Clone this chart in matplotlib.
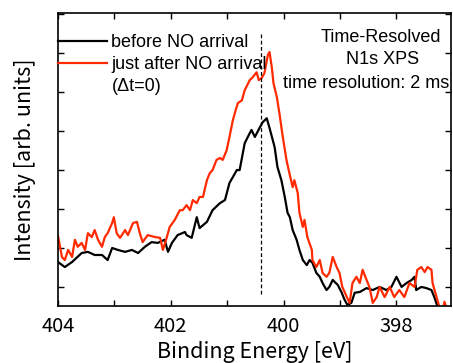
import matplotlib
matplotlib.use('Agg')
import matplotlib.pyplot as plt
from matplotlib.ticker import MultipleLocator, NullFormatter

# binding energy (eV) and intensity (arb. units)
e_before = [404.00, 403.88, 403.75, 403.58, 403.47, 403.35, 403.22, 403.12, 403.04, 402.94,
            402.81, 402.69, 402.58, 402.46, 402.34, 402.23, 402.11, 402.05, 401.98, 401.88,
            401.75, 401.72, 401.63, 401.54, 401.49, 401.36, 401.26, 401.13, 401.04, 400.96,
            400.90, 400.83, 400.78, 400.69, 400.60, 400.57, 400.51, 400.42, 400.37, 400.30,
            400.25, 400.16, 400.11, 400.04, 399.98, 399.93, 399.89, 399.84, 399.77, 399.72,
            399.66, 399.59, 399.54, 399.49, 399.42, 399.36, 399.31, 399.24, 399.19, 399.13,
            399.04, 398.97, 398.92, 398.87, 398.80, 398.74, 398.65, 398.53, 398.42, 398.30,
            398.18, 398.09, 398.00, 397.91, 397.82, 397.73, 397.68, 397.65, 397.56, 397.47,
            397.38, 397.33, 397.27, 397.15, 397.03]
i_before = [0.64, 0.51, 0.64, 0.87, 0.90, 0.82, 0.82, 0.69, 1.00, 0.95,
            0.90, 0.95, 0.87, 1.03, 1.15, 1.13, 1.21, 0.90, 1.13, 1.33,
            1.41, 1.33, 1.26, 1.79, 1.51, 1.67, 1.97, 2.15, 2.23, 2.67,
            2.82, 3.00, 3.00, 3.69, 3.95, 4.03, 3.85, 4.10, 4.23, 4.33,
            4.08, 3.59, 3.08, 2.74, 2.31, 1.90, 1.79, 1.46, 1.21, 0.95,
            0.69, 0.56, 0.69, 0.62, 0.36, 0.26, 0.10, -0.08, 0.00, 0.18,
            0.05, -0.15, -0.33, -0.46, -0.41, -0.15, -0.13, -0.03, -0.08, 0.00,
            -0.08, 0.00, 0.26, 0.00, 0.10, 0.18, 0.26, -0.08, 0.00, -0.03,
            -0.08, -0.26, -0.51, -0.85, -0.72]

e_after = [404.00, 403.93, 403.88, 403.82, 403.75, 403.70, 403.65, 403.58, 403.52, 403.47,
           403.40, 403.35, 403.29, 403.22, 403.17, 403.12, 403.04, 403.01, 402.96, 402.90,
           402.81, 402.76, 402.67, 402.60, 402.55, 402.50, 402.41, 402.28, 402.19, 402.14,
           402.07, 402.02, 401.93, 401.84, 401.79, 401.72, 401.66, 401.61, 401.54, 401.49,
           401.43, 401.36, 401.31, 401.26, 401.19, 401.13, 401.08, 401.01, 400.96, 400.90,
           400.85, 400.81, 400.74, 400.69, 400.60, 400.55, 400.48, 400.44, 400.39, 400.34,
           400.28, 400.25, 400.21, 400.18, 400.12, 400.07, 400.02, 399.95, 399.89, 399.84,
           399.81, 399.75, 399.72, 399.66, 399.63, 399.58, 399.50, 399.49, 399.42, 399.36,
           399.31, 399.24, 399.19, 399.13, 399.06, 399.01, 398.96, 398.88, 398.83, 398.78,
           398.71, 398.65, 398.60, 398.53, 398.48, 398.42, 398.35, 398.30, 398.21, 398.12,
           398.04, 397.95, 397.86, 397.77, 397.68, 397.63, 397.56, 397.50, 397.45, 397.38,
           397.36, 397.29, 397.24, 397.19, 397.15, 397.12, 397.06]
i_after = [1.31, 0.77, 0.69, 0.95, 0.77, 1.21, 1.03, 1.13, 0.95, 1.38,
           1.28, 1.46, 1.21, 1.03, 1.28, 1.38, 1.64, 1.79, 1.38, 1.26,
           1.46, 1.33, 1.64, 1.67, 1.38, 1.15, 1.33, 1.28, 1.26, 0.95,
           1.28, 1.54, 1.72, 1.97, 1.97, 2.10, 1.97, 2.23, 2.15, 2.31,
           2.31, 2.74, 2.92, 3.00, 3.26, 3.31, 3.26, 3.51, 3.85, 4.28,
           4.54, 4.72, 4.79, 5.05, 5.31, 5.38, 5.51, 5.31, 5.36, 5.49,
           5.95, 6.03, 5.64, 5.23, 4.87, 4.41, 3.90, 3.26, 2.87, 2.56,
           2.74, 2.41, 1.90, 1.54, 1.72, 1.28, 0.95, 0.69, 0.51, 0.69,
           0.36, 0.26, 0.36, 0.77, 0.51, 0.36, 0.00, -0.26, -0.41, 0.10,
           0.26, 0.10, 0.44, 0.18, 0.00, -0.41, -0.26, 0.00, -0.26, 0.00,
           -0.26, -0.08, -0.26, 0.10, 0.00, 0.44, 0.51, 0.38, 0.51, 0.44,
           0.10, -0.26, -0.51, -0.72, -0.38, -0.51, -0.72]

peak_energy = 400.41

fig = plt.figure(figsize=(4.53, 3.63), dpi=100)
ax = fig.add_axes([0.128, 0.157, 0.868, 0.807])

red = '#ff2a00'
ax.plot(e_before, i_before, color='black', lw=1.6, label='before NO arrival')
ax.plot(e_after, i_after, color=red, lw=1.6, label='just after NO arrival')
ax.vlines(peak_energy, -0.18, 6.51, colors='black', linestyles=(0, (3, 2)), lw=0.9)

ax.set_xlim(404, 397.03)
ax.set_ylim(-0.49, 7.03)
ax.xaxis.set_major_locator(MultipleLocator(2))
ax.xaxis.set_minor_locator(MultipleLocator(1))
ax.yaxis.set_major_locator(MultipleLocator(1))
ax.yaxis.set_major_formatter(NullFormatter())
ax.tick_params(which='both', direction='in', length=4.5, width=1,
               top=True, right=True, labelsize=14.5, pad=7)
for lab in ax.get_xticklabels():
    lab.set_family('Noto Sans CJK JP')
for s in ax.spines.values():
    s.set_linewidth(1.2)

ax.set_xlabel('Binding Energy [eV]', fontsize=15.5, family='Noto Sans CJK JP', labelpad=3)
ax.set_ylabel('Intensity [arb. units]', fontsize=15.5, family='Noto Sans CJK JP', labelpad=9)

tfont = ['Liberation Sans', 'DejaVu Sans']
ax.legend(loc='upper left', bbox_to_anchor=(0, 0.928), borderaxespad=0, frameon=False,
          prop={'family': tfont, 'size': 13}, handlelength=2.7, handletextpad=0.25,
          borderpad=0, labelspacing=0.27)
ax.text(0.137, 0.751, '(Δt=0)', transform=ax.transAxes, ha='left', va='center',
        fontsize=13, family=tfont)
ax.text(0.820, 0.918, 'Time-Resolved', transform=ax.transAxes, ha='center', va='center',
        fontsize=13, family=tfont)
ax.text(0.825, 0.843, 'N1s XPS', transform=ax.transAxes, ha='center', va='center',
        fontsize=13, family=tfont)
ax.text(0.784, 0.761, 'time resolution: 2 ms', transform=ax.transAxes, ha='center',
        va='center', fontsize=13, family=tfont, clip_on=False)

fig.savefig('out.png', dpi=100)
